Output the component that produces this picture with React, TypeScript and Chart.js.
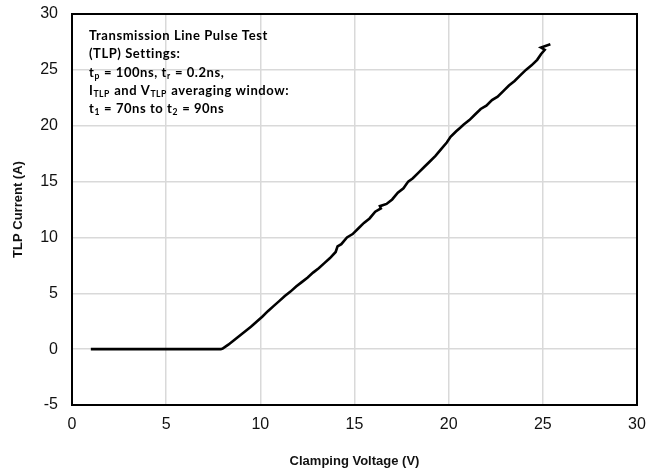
import React, { useEffect, useRef } from "react";
import { Chart, registerables } from "chart.js";

Chart.register(...registerables);

// Clamping voltage (V) and TLP current (A)
const voltage = [
  1.0, 2.0, 3.0, 4.0, 5.0, 6.0, 7.0, 7.9, 8.0, 8.3, 8.6, 8.9, 9.2, 9.5, 9.8, 10.1,
  10.4, 10.7, 11.0, 11.3, 11.6, 11.9, 12.2, 12.5, 12.8, 13.1, 13.4, 13.7, 14.0, 14.1,
  14.3, 14.6, 14.9, 15.2, 15.5, 15.8, 16.1, 16.4, 16.35, 16.7, 17.0, 17.3, 17.6, 17.85,
  18.1, 18.4, 18.7, 19.0, 19.3, 19.6, 19.9, 20.1, 20.4, 20.6, 20.8, 21.1, 21.4, 21.7,
  22.0, 22.3, 22.6, 22.9, 23.2, 23.5, 23.8, 24.1, 24.4, 24.7, 24.9, 25.1, 24.9, 25.4,
];
const current = [
  0, 0, 0, 0, 0, 0, 0, 0, 0.05, 0.4, 0.8, 1.2, 1.6, 2.0, 2.45, 2.9,
  3.4, 3.85, 4.3, 4.75, 5.15, 5.6, 6.0, 6.4, 6.85, 7.25, 7.7, 8.15, 8.7, 9.2,
  9.4, 10.0, 10.3, 10.8, 11.3, 11.7, 12.3, 12.6, 12.8, 13.0, 13.4, 14.0, 14.4, 15.0,
  15.3, 15.8, 16.3, 16.8, 17.3, 17.9, 18.5, 19.0, 19.5, 19.8, 20.1, 20.5, 21.0, 21.5,
  21.8, 22.3, 22.6, 23.1, 23.6, 24.0, 24.5, 25.0, 25.4, 25.9, 26.4, 26.8, 27.0, 27.3,
];

const xMin = 0;
const xMax = 30;
const xStep = 5;
const yMin = -5;
const yMax = 30;
const yStep = 5;

const xTitle = "Clamping Voltage (V)";
const yTitle = "TLP Current (A)";

// Annotation text: [text, isSubscript]
const noteLines: [string, boolean][][] = [
  [["Transmission Line Pulse Test", false]],
  [["(TLP) Settings:", false]],
  [["t", false], ["p", true], [" = 100ns, t", false], ["r", true], [" = 0.2ns,", false]],
  [["I", false], ["TLP", true], [" and V", false], ["TLP", true], [" averaging window:", false]],
  [["t", false], ["1", true], [" = 70ns to t", false], ["2", true], [" = 90ns", false]],
];

const W = 647;
const H = 473;

export default function App() {
  const ref = useRef<HTMLCanvasElement | null>(null);

  useEffect(() => {
    if (!ref.current) return;
    const points = voltage.map((v, i) => ({ x: v, y: current[i] }));

    const framePlugin = {
      id: "frameAndNote",
      afterDraw(chart: any) {
        const { ctx, chartArea } = chart;
        ctx.save();
        ctx.strokeStyle = "#000";
        ctx.lineWidth = 2;
        ctx.strokeRect(chartArea.left, chartArea.top, chartArea.right - chartArea.left, chartArea.bottom - chartArea.top);

        // annotation
        const fs = 13;
        const mainFont = `bold ${fs}px Lato, "Open Sans", sans-serif`;
        const subFont = `bold ${fs * 0.66}px Lato, "Open Sans", sans-serif`;
        ctx.fillStyle = "#000";
        ctx.textBaseline = "middle";
        ctx.textAlign = "left";
        (ctx as any).letterSpacing = "0.55px";
        const x0 = chartArea.left + 17;
        const y0 = chartArea.top + 22;
        const lh = 18.2;
        noteLines.forEach((segs, li) => {
          let x = x0;
          const y = y0 + li * lh;
          segs.forEach(([t, sub]) => {
            ctx.font = sub ? subFont : mainFont;
            ctx.fillText(t, x, sub ? y + 3.5 : y);
            x += ctx.measureText(t).width + (sub ? 0.5 : 0);
          });
        });
        ctx.restore();
      },
    };

    const tickFont = { family: '"Liberation Sans", Arial, sans-serif', size: 16 };
    const titleFont = { family: '"Liberation Sans", Arial, sans-serif', size: 13, weight: "bold" as const };

    const chart = new Chart(ref.current, {
      type: "scatter",
      data: {
        datasets: [
          {
            data: points,
            showLine: true,
            borderColor: "#000",
            borderWidth: 2.6,
            pointRadius: 0,
            tension: 0,
          },
        ],
      },
      options: {
        animation: false,
        responsive: false,
        maintainAspectRatio: false,
        layout: { padding: { top: 14, right: 10, left: 0, bottom: 0 } },
        plugins: { legend: { display: false }, tooltip: { enabled: false } },
        scales: {
          x: {
            type: "linear",
            min: xMin,
            max: xMax,
            ticks: { stepSize: xStep, color: "#111", font: tickFont, padding: 10 },
            grid: { color: "#d9d9d9", lineWidth: 1.5, tickLength: 0, drawTicks: false },
            border: { display: false },
            title: { display: true, text: xTitle, color: "#111", font: titleFont, padding: { top: 12 } },
            afterFit(scale: any) {
              scale.height = H - 405;
              scale.paddingLeft = 0;
              scale.paddingRight = 0;
            },
          },
          y: {
            type: "linear",
            min: yMin,
            max: yMax,
            ticks: { stepSize: yStep, color: "#111", font: tickFont, padding: 14 },
            grid: { color: "#d9d9d9", lineWidth: 1.5, tickLength: 0, drawTicks: false },
            border: { display: false },
            title: { display: true, text: yTitle, color: "#111", font: titleFont, padding: { top: 11, bottom: 4 } },
            afterFit(scale: any) {
              scale.width = 72;
              scale.paddingTop = 0;
              scale.paddingBottom = 0;
            },
          },
        },
      },
      plugins: [framePlugin],
    });
    return () => chart.destroy();
  }, []);

  return (
    <div style={{ position: "fixed", left: 0, top: 0, width: W, height: H, background: "#fff" }}>
      <canvas ref={ref} width={W} height={H} style={{ width: W, height: H, display: "block" }} />
    </div>
  );
}
